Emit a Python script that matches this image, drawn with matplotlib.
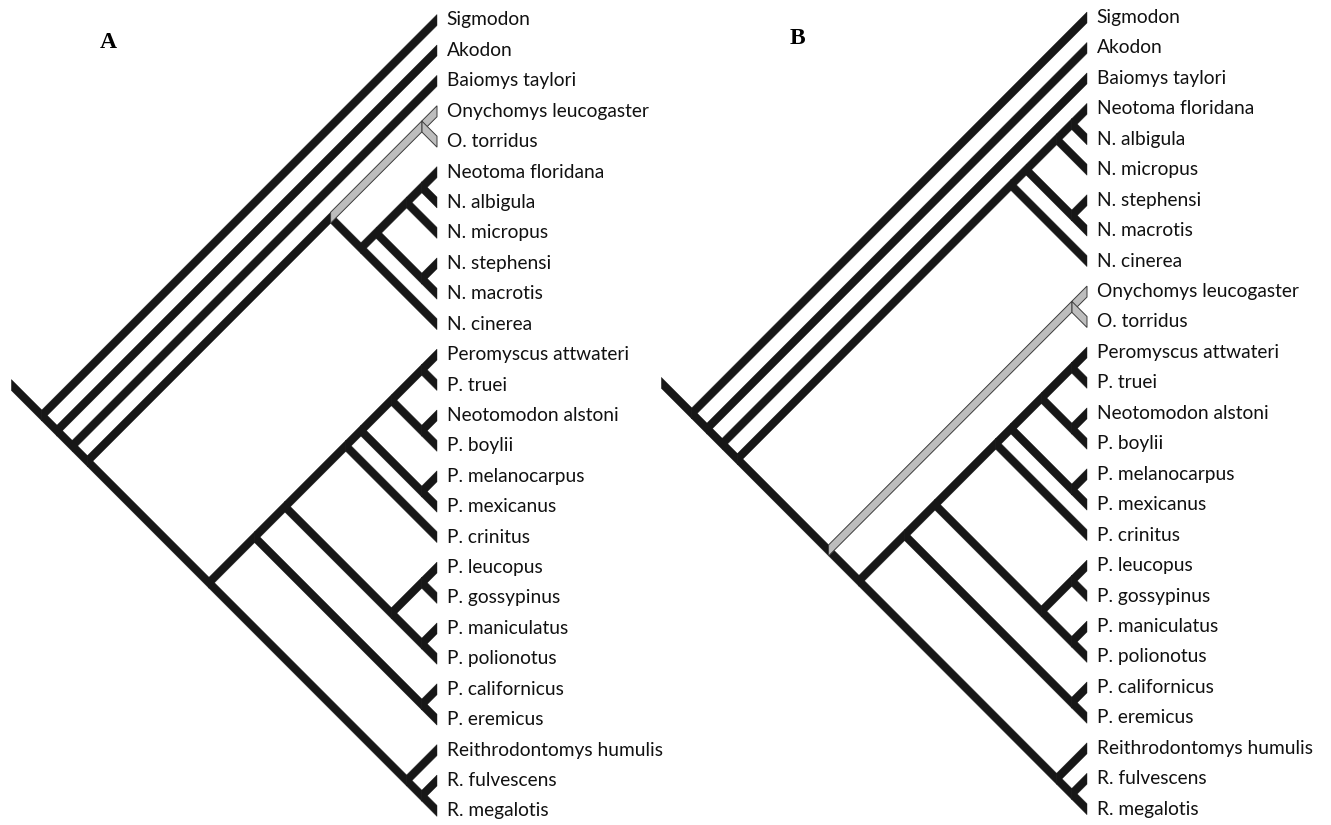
import matplotlib
matplotlib.use("Agg")
import matplotlib.pyplot as plt
from matplotlib.patches import Polygon

# ---------------- data ----------------
leaves_A = ["Sigmodon", "Akodon", "Baiomys taylori", "Onychomys leucogaster", "O. torridus",
            "Neotoma floridana", "N. albigula", "N. micropus", "N. stephensi", "N. macrotis",
            "N. cinerea", "Peromyscus attwateri", "P. truei", "Neotomodon alstoni", "P. boylii",
            "P. melanocarpus", "P. mexicanus", "P. crinitus", "P. leucopus", "P. gossypinus",
            "P. maniculatus", "P. polionotus", "P. californicus", "P. eremicus",
            "Reithrodontomys humulis", "R. fulvescens", "R. megalotis"]

leaves_B = ["Sigmodon", "Akodon", "Baiomys taylori", "Neotoma floridana", "N. albigula",
            "N. micropus", "N. stephensi", "N. macrotis", "N. cinerea", "Onychomys leucogaster",
            "O. torridus", "Peromyscus attwateri", "P. truei", "Neotomodon alstoni", "P. boylii",
            "P. melanocarpus", "P. mexicanus", "P. crinitus", "P. leucopus", "P. gossypinus",
            "P. maniculatus", "P. polionotus", "P. californicus", "P. eremicus",
            "Reithrodontomys humulis", "R. fulvescens", "R. megalotis"]

onychomys = ("Onychomys leucogaster", "O. torridus")
neotoma = (((("Neotoma floridana", "N. albigula"), "N. micropus"),
            ("N. stephensi", "N. macrotis")), "N. cinerea")
peromyscus = ((((((("Peromyscus attwateri", "P. truei"), ("Neotomodon alstoni", "P. boylii")),
                  ("P. melanocarpus", "P. mexicanus")), "P. crinitus"),
                (("P. leucopus", "P. gossypinus"), ("P. maniculatus", "P. polionotus"))),
               ("P. californicus", "P. eremicus")),
              ("Reithrodontomys humulis", ("R. fulvescens", "R. megalotis")))

tree_A = ("Sigmodon", ("Akodon", ("Baiomys taylori", ((onychomys, neotoma), peromyscus))))
tree_B = ("Sigmodon", ("Akodon", ("Baiomys taylori", (neotoma, (onychomys, peromyscus)))))
grey_taxa = set(onychomys)

BLACK = "#171717"
GREY = "#bdbdbd"
H = 0.18          # half vertical thickness of a branch (data units)
SCALE = 30.4      # pixels per data unit


def leafset(node):
    if isinstance(node, str):
        return [node]
    out = []
    for c in node:
        out += leafset(c)
    return out


def branch(ax, x0, y0, x1, y1, grey):
    poly = Polygon([(x0, y0 - H), (x1, y1 - H), (x1, y1 + H), (x0, y0 + H)],
                   closed=True,
                   facecolor=GREY if grey else BLACK,
                   edgecolor="#3c3c3c" if grey else BLACK,
                   linewidth=0.7 if grey else 0.3, zorder=3 if grey else 2)
    ax.add_patch(poly)


def draw(ax, node, idx):
    """Place a node of a slanted cladogram; returns its (x, y)."""
    ys = [idx[n] for n in leafset(node)]
    lo, hi = min(ys), max(ys)
    y = (lo + hi) / 2.0
    x = -(hi - lo) / 2.0
    if not isinstance(node, str):
        for c in node:
            cx, cy = draw(ax, c, idx)
            grey = set(leafset(c)) <= grey_taxa
            branch(ax, x, y, cx, cy, grey)
    return x, y


fig = plt.figure(figsize=(13.31, 8.25), dpi=100)

panels = [
    (leaves_A, tree_A, 0, 650, 437, 20.0, 30.42, "A", 108, 43),
    (leaves_B, tree_B, 650, 681, 1087, 17.5, 30.45, "B", 797, 39),
]

for leaves, tree, left, width, leafx, y0, dy, letter, lx, ly in panels:
    ax = fig.add_axes([left / 1331, 0, width / 1331, 1])
    ax.set_xlim(-(leafx - left) / SCALE, (left + width - leafx) / SCALE)
    ax.set_ylim((825 - y0) / dy, -y0 / dy)
    ax.axis("off")
    idx = {n: i for i, n in enumerate(leaves)}
    rx, ry = draw(ax, tree, idx)
    # short root stem
    branch(ax, rx - 1.0, ry - 1.0, rx, ry, False)
    for i, n in enumerate(leaves):
        ax.text(0.32, i, n, ha="left", va="center", fontsize=13.8,
                family=["Lato", "DejaVu Sans"], color="#111111", clip_on=False)
    fig.text(lx / 1331, 1 - ly / 825, letter, ha="center", va="center",
             fontsize=17, fontweight="bold", family=["Liberation Serif", "DejaVu Serif"])

fig.savefig("out.png", dpi=100, facecolor="white")
